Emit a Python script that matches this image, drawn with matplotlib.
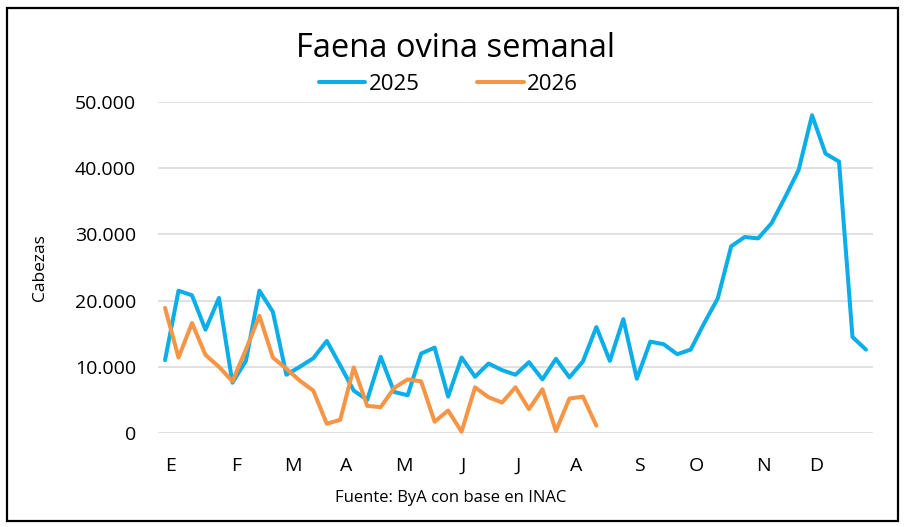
import numpy as np
import matplotlib
matplotlib.use("Agg")
import matplotlib.pyplot as plt
from matplotlib.patches import Rectangle
from matplotlib.ticker import FuncFormatter

# weekly sheep slaughter, thousands of head
y2025 = [11.0, 21.5, 20.8, 15.6, 20.4, 7.6, 10.9, 21.5, 18.3, 8.8,
         10.0, 11.3, 13.9, 10.2, 6.4, 5.0, 11.5, 6.2, 5.7, 12.0,
         12.9, 5.5, 11.4, 8.5, 10.5, 9.5, 8.8, 10.7, 8.1, 11.2,
         8.4, 10.8, 16.0, 10.9, 17.2, 8.2, 13.8, 13.4, 11.9, 12.6,
         16.6, 20.3, 28.2, 29.6, 29.4, 31.7, 35.6, 39.7, 48.0, 42.2,
         41.0, 14.5, 12.6]
y2026 = [18.9, 11.4, 16.6, 11.8, 10.0, 7.8, 12.6, 17.7, 11.4, 9.7,
         7.9, 6.4, 1.4, 2.0, 9.9, 4.1, 3.9, 6.8, 8.1, 7.8,
         1.7, 3.4, 0.2, 6.9, 5.4, 4.6, 6.9, 3.6, 6.6, 0.3,
         5.2, 5.5, 1.1]
months = ["E", "F", "M", "A", "M", "J", "J", "A", "S", "O", "N", "D"]
month_pos = [0.4, 5.3, 9.5, 13.45, 17.7, 22.1, 26.2, 30.5, 35.2, 39.4, 44.4, 48.3]

BLUE = "#0BAEE8"
ORANGE = "#F59545"
FONT = "Open Sans"

plt.rcParams.update({"font.family": FONT})
W, H = 905, 527
fig = plt.figure(figsize=(W / 100, H / 100), dpi=100)
ax = fig.add_axes([158.3 / W, 1 - 433 / H, (872.7 - 158.3) / W, (433 - 102) / H])

x25 = np.arange(len(y2025))
x26 = np.arange(len(y2026))
kw = dict(lw=2.9, solid_joinstyle="round", solid_capstyle="round", clip_on=False)
ax.plot(x25, np.array(y2025) * 1000, color=BLUE, label="2025", **kw)
ax.plot(x26, np.array(y2026) * 1000, color=ORANGE, label="2026", **kw)

ax.set_xlim(-0.5, len(y2025) - 0.5)
ax.set_ylim(0, 50000)
ax.set_yticks(np.arange(0, 50001, 10000))
ax.yaxis.set_major_formatter(FuncFormatter(lambda v, p: f"{int(v):,}".replace(",", ".")))
ax.set_xticks(month_pos)
ax.set_xticklabels(months)
ax.tick_params(axis="y", length=0, pad=16, labelsize=14)
ax.tick_params(axis="x", length=0, pad=17, labelsize=14)
ax.yaxis.grid(True, color="#D9D9D9", lw=1.1)
ax.set_axisbelow(True)
for s in ax.spines.values():
    s.set_visible(False)

fig.text(455.5 / W, 1 - 57 / H, "Faena ovina semanal", ha="center", va="baseline", fontsize=23.5)
fig.legend(*ax.get_legend_handles_labels(), loc="center", bbox_to_anchor=(448.5 / W, 1 - 84 / H),
           ncol=2, frameon=False, fontsize=16, handlelength=2.1, handletextpad=0.15,
           columnspacing=2.6, borderpad=0)
fig.text(40 / W, 1 - 268 / H, "Cabezas", rotation=90, ha="center", va="center", fontsize=12.5)
fig.text(450.5 / W, 1 - 498 / H, "Fuente: ByA con base en INAC", ha="center", va="center", fontsize=12)

fig.add_artist(Rectangle((6.7 / W, 6 / H), (898 - 6.7) / W, (521 - 8.3) / H,
                         transform=fig.transFigure, fill=False, ec="black", lw=1.6))

fig.savefig("out.png", dpi=100)
